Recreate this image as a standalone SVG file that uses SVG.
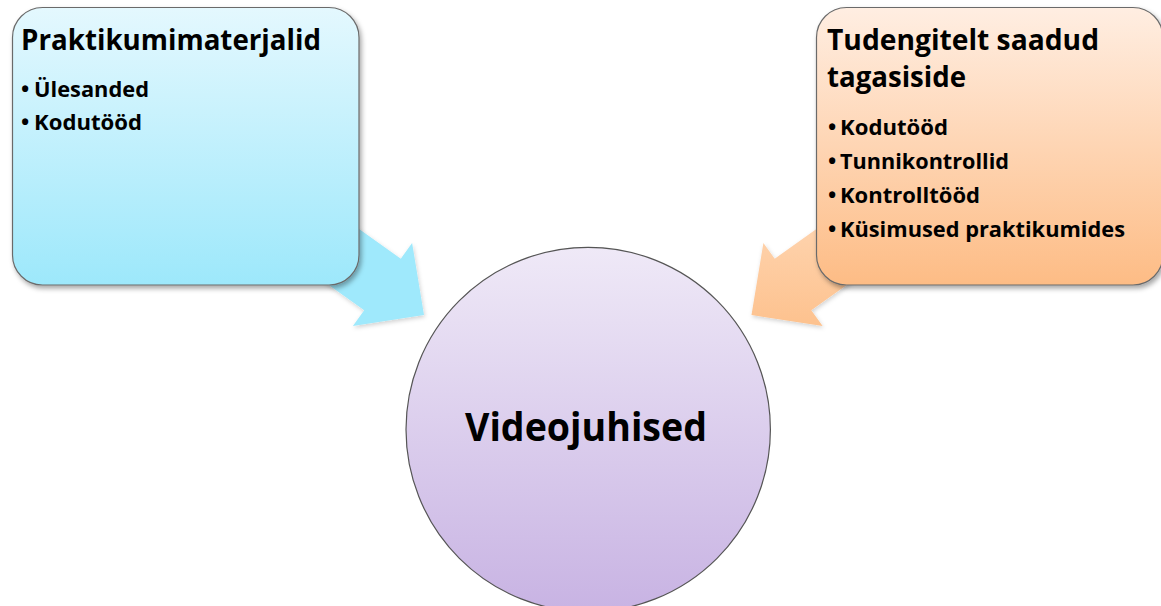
<svg xmlns="http://www.w3.org/2000/svg" width="1161" height="606" viewBox="0 0 1161 606">
  <defs>
    <linearGradient id="gradBlue" x1="0" y1="0" x2="0" y2="1">
      <stop offset="0" stop-color="#E4F8FE"/>
      <stop offset="1" stop-color="#9DE8FB"/>
    </linearGradient>
    <linearGradient id="gradOrange" x1="0" y1="0" x2="0" y2="1">
      <stop offset="0" stop-color="#FFEEE2"/>
      <stop offset="1" stop-color="#FDBC85"/>
    </linearGradient>
    <linearGradient id="gradPurple" x1="0" y1="0" x2="0" y2="1">
      <stop offset="0" stop-color="#EFE9F7"/>
      <stop offset="1" stop-color="#C8B3E3"/>
    </linearGradient>
    <linearGradient id="gradArrowOrange" gradientUnits="userSpaceOnUse" x1="0" y1="170" x2="0" y2="330">
      <stop offset="0" stop-color="#FFDDBF"/>
      <stop offset="1" stop-color="#FDC18D"/>
    </linearGradient>
    <filter id="shadow" x="-10%" y="-10%" width="130%" height="130%">
      <feDropShadow dx="2" dy="3" stdDeviation="2.5" flood-color="#000" flood-opacity="0.35"/>
    </filter>
    <filter id="softShadow" x="-10%" y="-10%" width="130%" height="130%">
      <feDropShadow dx="1" dy="2" stdDeviation="2" flood-color="#000" flood-opacity="0.18"/>
    </filter>
  </defs>
  <style>
    .box { stroke: #6b6b6b; stroke-width: 1.2; filter: url(#shadow); }
    .title { font-family: "Open Sans", "Liberation Sans", sans-serif; font-weight: bold; font-size: 28px; fill: #000; }
    .item { font-family: "Open Sans", "Liberation Sans", sans-serif; font-weight: bold; font-size: 22px; fill: #000; }
    .center { font-family: "Open Sans", "Liberation Sans", sans-serif; font-weight: bold; font-size: 40px; fill: #000; }
    .arrow { stroke: none; filter: url(#softShadow); }
  </style>

  <rect width="1161" height="606" fill="#FFFFFF"/>

  <!-- block arrows pointing into the central circle -->
  <g id="connectors">
    <polygon class="arrow" fill="#9FE9FC"
      points="278.8,171.7 400.8,258.7 412.1,242.9 424,315 352.9,326.1 364.2,310.3 242.2,223.3"/>
    <polygon class="arrow" fill="url(#gradArrowOrange)"
      points="896.7,171.7 774.7,258.7 763.4,242.9 751.5,315 822.6,326.1 811.3,310.3 933.3,223.3"/>
  </g>

  <!-- left source box -->
  <g id="node-praktikumimaterjalid">
    <rect class="box" x="12.5" y="7.5" width="346.5" height="277.5" rx="30" ry="30" fill="url(#gradBlue)"/>
    <text class="title" x="21" y="50" textLength="300" lengthAdjust="spacingAndGlyphs">Praktikumimaterjalid</text>
    <text class="item" x="21" y="97">•<tspan x="34" textLength="115" lengthAdjust="spacingAndGlyphs">Ülesanded</tspan></text>
    <text class="item" x="21" y="130">•<tspan x="34" textLength="108" lengthAdjust="spacingAndGlyphs">Kodutööd</tspan></text>
  </g>

  <!-- right source box -->
  <g id="node-tagasiside">
    <rect class="box" x="816.5" y="7.5" width="346.5" height="277.5" rx="30" ry="30" fill="url(#gradOrange)"/>
    <text class="title" x="827" y="50" textLength="272" lengthAdjust="spacingAndGlyphs">Tudengitelt saadud</text>
    <text class="title" x="827" y="87" textLength="139" lengthAdjust="spacingAndGlyphs">tagasiside</text>
    <text class="item" x="828" y="135">•<tspan x="840" textLength="108" lengthAdjust="spacingAndGlyphs">Kodutööd</tspan></text>
    <text class="item" x="828" y="169">•<tspan x="840" textLength="169" lengthAdjust="spacingAndGlyphs">Tunnikontrollid</tspan></text>
    <text class="item" x="828" y="202.5">•<tspan x="840" textLength="140" lengthAdjust="spacingAndGlyphs">Kontrolltööd</tspan></text>
    <text class="item" x="828" y="236.5">•<tspan x="840" textLength="285" lengthAdjust="spacingAndGlyphs">Küsimused praktikumides</tspan></text>
  </g>

  <!-- central target circle -->
  <g id="node-videojuhised">
    <circle cx="588.2" cy="429.5" r="182.2" fill="url(#gradPurple)" stroke="#555555" stroke-width="1.2"/>
    <text class="center" x="586" y="441" text-anchor="middle" textLength="242" lengthAdjust="spacingAndGlyphs">Videojuhised</text>
  </g>
</svg>
